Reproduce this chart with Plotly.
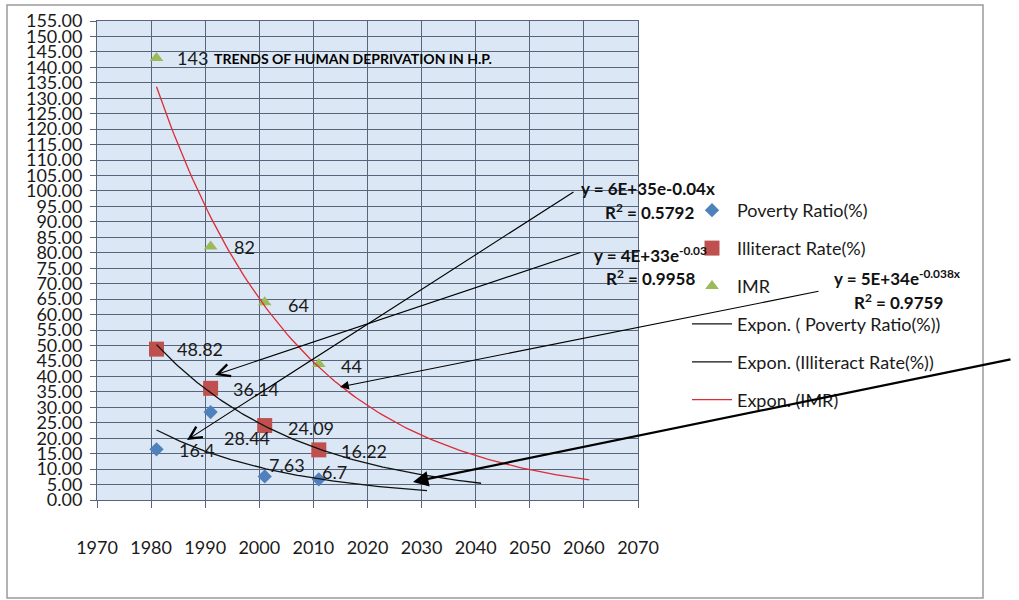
import numpy as np
import plotly.graph_objects as go

# ---------------- data ----------------
years = [1981, 1991, 2001, 2011]
poverty = [16.4, 28.44, 7.63, 6.7]
illiteracy = [48.82, 36.14, 24.09, 16.22]
imr = [143, 82, 64, 44]

series_names = ["Poverty Ratio(%)", "Illiteract Rate(%)", "IMR"]
trend_names = ["Expon. ( Poverty Ratio(%))", "Expon. (Illiteract Rate(%))", "Expon. (IMR)"]
trend_end_years = [2031, 2041, 2061]          # forward forecast of each trendline

eq_texts = [
    ("y = 6E+35e-0.04x", "R<sup>2</sup> = 0.5792"),
    ("y = 4E+33e<sup>-0.03</sup>", "R<sup>2</sup> = 0.9958"),
    ("y = 5E+34e<sup>-0.038x</sup>", "R<sup>2</sup> = 0.9759"),
]
title_text = "TRENDS OF HUMAN DEPRIVATION IN H.P."

x_range = [1970, 2070]
y_range = [0, 155]

# ---------------- styling / layout ----------------
W, H = 1019, 600
PL, PR, PT, PB = 97, 638, 21, 500   # plot area in pixels
FONT = "Lato, 'Open Sans', sans-serif"
BLUE, RED, GREEN = "#4F81BD", "#C0504D", "#9BBB59"
GRID = "#56657a"


def px_x(p):
    return (p - PL) / (PR - PL)


def px_y(p):
    return (PB - p) / (PB - PT)


fig = go.Figure()

marker_styles = [
    dict(symbol="diamond", size=11, color=BLUE),
    dict(symbol="square", size=15, color=RED),
    dict(symbol="triangle-up", size=12, color=GREEN),
]
values = [poverty, illiteracy, imr]

for i, (name, vals, ms) in enumerate(zip(series_names, values, marker_styles)):
    fig.add_trace(go.Scatter(
        x=years, y=vals, mode="markers", name=name,
        marker=dict(symbol=ms["symbol"], size=ms["size"], color=ms["color"], line=dict(width=0)),
        legendgroup=f"g{i}", cliponaxis=False,
    ))

trend_colors = ["#111111", "#111111", "#dc2c35"]
for i, (name, vals, end, col) in enumerate(zip(trend_names, values, trend_end_years, trend_colors)):
    b, a = np.polyfit(years, np.log(vals), 1)
    xs = np.linspace(years[0], end, 120)
    ys = np.exp(a + b * xs)
    fig.add_trace(go.Scatter(
        x=xs, y=ys, mode="lines", name=name,
        line=dict(color=col, width=1.3),
        legendgroup=f"g{3 + i}",
    ))

annotations = []

# data labels (offsets in pixels from each point)
label_offsets = [
    [(20, 1), (11, 26), (2, -11), (1, -7)],     # poverty
    [(18, 0), (20, 1), (21, 2), (20, 1)],       # illiteracy
    [(18, 0), (21, 0), (21, 3), (20, 2)],       # imr
]
for vals, offs in zip(values, label_offsets):
    for xv, yv, (dx, dy) in zip(years, vals, offs):
        annotations.append(dict(
            x=xv, y=yv, xref="x", yref="y", text=f"{yv:g}", showarrow=False,
            xanchor="left", yanchor="middle", xshift=dx, yshift=-dy,
            font=dict(family=FONT, size=18, color="#1a1a1a"),
        ))

# title
annotations.append(dict(
    x=px_x(212), y=px_y(58), xref="paper", yref="paper", text=f"<b>{title_text}</b>",
    showarrow=False, xanchor="left", yanchor="middle",
    font=dict(family=FONT, size=14, color="#000000"),
))

# trendline equations
eq_pos = [((648, 188), (649, 211)), ((650, 254), (650, 278)), ((897, 277), (898, 301))]
for (eq, r2), ((ex, ey), (rx, ry)) in zip(eq_texts, eq_pos):
    for t, (cx, cy) in ((eq, (ex, ey)), (r2, (rx, ry))):
        annotations.append(dict(
            x=px_x(cx), y=px_y(cy), xref="paper", yref="paper", text=f"<b>{t}</b>",
            showarrow=False, xanchor="center", yanchor="middle",
            font=dict(family=FONT, size=17, color="#111111"),
        ))

# arrows: (head px, tail px, head style, width, size)
arrows = [
    ((187, 440), (575, 191), 5, 1.1, 2.2),
    ((215, 375), (582, 252), 5, 1.1, 2.2),
    ((340, 387), (820, 291), 2, 1.1, 1.6),
    ((413, 482), (1012, 359), 2, 2.2, 1.4),
]
for (hx, hy), (tx, ty), head, w, sz in arrows:
    annotations.append(dict(
        x=px_x(hx), y=px_y(hy), xref="paper", yref="paper", text="",
        showarrow=True, arrowhead=head, arrowwidth=w, arrowsize=sz, arrowcolor="#000000",
        ax=tx - hx, ay=ty - hy, axref="pixel", ayref="pixel", standoff=0,
    ))

shapes = [dict(
    type="rect", xref="paper", yref="paper",
    x0=px_x(7), x1=px_x(983), y0=px_y(598), y1=px_y(5),
    line=dict(color="#9a9a9a", width=1.5), fillcolor="rgba(0,0,0,0)", layer="below",
)]

axis_common = dict(
    showgrid=True, gridcolor=GRID, gridwidth=1,
    showline=True, linecolor=GRID, linewidth=1, mirror=True,
    ticks="outside", tickcolor=GRID, zeroline=False,
    tickfont=dict(family=FONT, size=18, color="#1a1a1a"),
)

fig.update_layout(
    width=W, height=H,
    margin=dict(l=PL, r=W - PR, t=PT, b=H - PB, autoexpand=False),
    paper_bgcolor="white", plot_bgcolor="#dbe7f5",
    xaxis=dict(range=x_range, dtick=10, ticklen=7, ticklabelstandoff=24, **axis_common),
    yaxis=dict(range=y_range, dtick=5, tickformat=".2f", ticklen=6, ticklabelstandoff=4, **axis_common),
    showlegend=True,
    legend=dict(
        xref="container", yref="container", x=687 / W, y=1 - 192 / H,
        xanchor="left", yanchor="top", bgcolor="rgba(0,0,0,0)",
        font=dict(family=FONT, size=18, color="#1a1a1a"),
        traceorder="grouped", tracegroupgap=11.5, itemwidth=40,
    ),
    annotations=annotations, shapes=shapes,
)

fig.write_html("out.html")
